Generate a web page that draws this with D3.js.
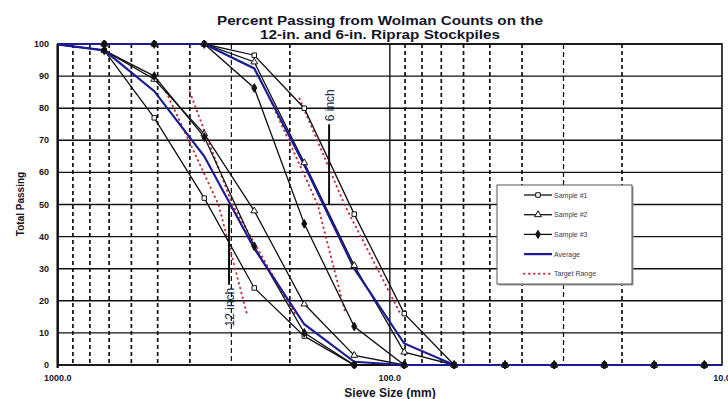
<!DOCTYPE html>
<html>
<head>
<meta charset="utf-8">
<script src="https://cdn.jsdelivr.net/npm/d3@7"></script>
<style>
  body { margin: 0; background: #fff; }
  svg { display: block; font-family: "Liberation Sans", Arial, sans-serif; }
</style>
</head>
<body>
<svg id="chart" width="728" height="399"></svg>
<script>
// sieve sizes (mm) where counts were tallied
const sieveSizes = [1024, 724, 512, 362, 256, 181, 128, 90.5, 64, 45, 32, 22.6, 16, 11.3, 8];

// 12-in. stockpile, percent passing
const sample1_12 = [100, 98, 77, 52, 24, 9, 0, 0, 0, 0, 0, 0, 0, 0, 0];
const sample2_12 = [100, 98, 89, 72, 48, 19, 3, 0, 0, 0, 0, 0, 0, 0, 0];
const sample3_12 = [100, 98, 90, 71, 37, 10, 0, 0, 0, 0, 0, 0, 0, 0, 0];
const average_12 = [100, 98, 85.3, 65, 36.3, 12.7, 1, 0, 0, 0, 0, 0, 0, 0, 0];

// 6-in. stockpile, percent passing
const sample1_6 = [100, 100, 100, 100, 96.5, 80, 47, 16, 0, 0, 0, 0, 0, 0, 0];
const sample2_6 = [100, 100, 100, 100, 94.4, 63, 31, 4, 0, 0, 0, 0, 0, 0, 0];
const sample3_6 = [100, 100, 100, 100, 86.3, 44, 12, 0, 0, 0, 0, 0, 0, 0, 0];
const average_6 = [100, 100, 100, 100, 92.4, 62.3, 30, 6.7, 0, 0, 0, 0, 0, 0, 0];

// target range bands (size in mm at given percent passing)
const targetPct12 = [85, 50, 15];
const target12Coarse = [471, 328, 268];
const target12Fine = [400, 298, 191];
const targetPct6 = [83, 50, 16];
const target6Coarse = [230, 165, 136];
const target6Fine = [187, 137, 93];

// design size markers
const markerSizes = [305, 152.4];
const markerTop = [50, 75];
const markerBottom = [25, 50];
const markerLabels = ["12 inch", "6 inch"];

const titleLines = ['Percent Passing from Wolman Counts on the', '12-in. and 6-in. Riprap Stockpiles'];
const yTicks = [0, 10, 20, 30, 40, 50, 60, 70, 80, 90, 100];
const xLabels = [1000, 100, 10];
const minorSizes = [900, 800, 700, 600, 500, 400, 300, 200, 90, 80, 70, 60, 50, 40, 30, 20];

const svg = d3.select('#chart');
const plotL = 57.7, plotR = 722, plotT = 44, plotB = 365;
const ink = '#15152a';

const x = d3.scaleLog().domain([1000, 10]).range([plotL, plotR]);
const y = d3.scaleLinear().domain([0, 100]).range([plotB, plotT]);

svg.append('defs').append('clipPath').attr('id', 'plotClip')
  .append('rect').attr('x', plotL).attr('y', plotT - 4)
  .attr('width', plotR - plotL).attr('height', plotB - plotT + 8);

// title, stretched wide like the original
svg.append('g').selectAll('text').data(titleLines).join('text')
  .attr('x', 380).attr('y', (d, i) => 24.5 + i * 14)
  .attr('text-anchor', 'middle')
  .attr('font-size', 12.5).attr('font-weight', 'bold').attr('fill', ink)
  .attr('textLength', (d, i) => i === 0 ? 326 : 240)
  .attr('lengthAdjust', 'spacingAndGlyphs')
  .text(d => d);

// grid
const grid = svg.append('g');
grid.selectAll('line.minor').data(minorSizes).join('line')
  .attr('class', 'minor')
  .attr('x1', d => x(d)).attr('x2', d => x(d))
  .attr('y1', plotT).attr('y2', plotB)
  .attr('stroke', '#111').attr('stroke-width', d => (d === 300 || d === 30) ? 1.2 : 1.7)
  .attr('stroke-dasharray', d => (d === 300 || d === 30) ? '5,3' : '4,3');
grid.selectAll('line.h').data(yTicks).join('line')
  .attr('class', 'h')
  .attr('x1', plotL).attr('x2', plotR)
  .attr('y1', d => y(d)).attr('y2', d => y(d))
  .attr('stroke', '#111').attr('stroke-width', 1.4);
grid.append('line')
  .attr('x1', x(100)).attr('x2', x(100)).attr('y1', plotT).attr('y2', plotB)
  .attr('stroke', '#111').attr('stroke-width', 1.4);
grid.append('rect')
  .attr('x', plotL).attr('y', plotT).attr('width', plotR - plotL).attr('height', plotB - plotT)
  .attr('fill', 'none').attr('stroke', '#111').attr('stroke-width', 1.6);
// heavier left axis
grid.append('line')
  .attr('x1', plotL).attr('x2', plotL).attr('y1', plotT).attr('y2', plotB + 3)
  .attr('stroke', '#111').attr('stroke-width', 2.4);

// axis labels
svg.append('g').selectAll('text').data(yTicks).join('text')
  .attr('x', 49).attr('y', d => y(d) + 3)
  .attr('text-anchor', 'end')
  .attr('font-size', 9).attr('font-weight', 'bold').attr('fill', ink)
  .text(d => d);
svg.append('g').selectAll('text').data(xLabels).join('text')
  .attr('x', d => x(d)).attr('y', 381)
  .attr('text-anchor', 'middle')
  .attr('font-size', 9).attr('font-weight', 'bold').attr('fill', ink)
  .text(d => d3.format('.1f')(d));

svg.append('text')
  .attr('transform', 'translate(24,204) rotate(-90)')
  .attr('text-anchor', 'middle')
  .attr('font-size', 10).attr('font-weight', 'bold').attr('fill', ink)
  .text('Total Passing');
svg.append('text')
  .attr('x', 390).attr('y', 397)
  .attr('text-anchor', 'middle')
  .attr('font-size', 12).attr('font-weight', 'bold').attr('fill', ink)
  .text('Sieve Size (mm)');

const plot = svg.append('g').attr('clip-path', 'url(#plotClip)');

const line = d3.line().x(d => x(d[0])).y(d => y(d[1]));
const pairs = vals => sieveSizes.map((s, i) => [s, vals[i]]);

// target range (red dotted)
const targets = [
  [target12Coarse, targetPct12], [target12Fine, targetPct12],
  [target6Coarse, targetPct6], [target6Fine, targetPct6]
];
plot.selectAll('path.target').data(targets).join('path')
  .attr('class', 'target')
  .attr('d', d => line(d[0].map((s, i) => [s, d[1][i]])))
  .attr('fill', 'none').attr('stroke', '#c0303a').attr('stroke-width', 2)
  .attr('stroke-dasharray', '0.5,4.5').attr('stroke-linecap', 'round');

// design size markers
markerSizes.forEach((s, i) => {
  svg.append('line')
    .attr('x1', x(s)).attr('x2', x(s))
    .attr('y1', y(markerTop[i])).attr('y2', y(markerBottom[i]))
    .attr('stroke', '#111').attr('stroke-width', 2);
  // 12 inch label hangs below its line, 6 inch label sits above
  const below = i === 0;
  const ty = below ? y(markerBottom[i]) + 3 : y(markerTop[i]) - 3;
  svg.append('text')
    .attr('transform', `translate(${x(s) + 5},${ty}) rotate(-90)`)
    .attr('text-anchor', below ? 'end' : 'start')
    .attr('font-size', 12).attr('fill', '#1a2a4a')
    .text(markerLabels[i]);
});

// sample lines
const samples = [
  { vals: sample1_12, sym: d3.symbolSquare, fill: '#fff' },
  { vals: sample2_12, sym: d3.symbolTriangle, fill: '#fff' },
  { vals: sample3_12, sym: d3.symbolDiamond, fill: '#111' },
  { vals: sample1_6, sym: d3.symbolSquare, fill: '#fff' },
  { vals: sample2_6, sym: d3.symbolTriangle, fill: '#fff' },
  { vals: sample3_6, sym: d3.symbolDiamond, fill: '#111' }
];
samples.forEach(sm => {
  plot.append('path')
    .attr('d', line(pairs(sm.vals)))
    .attr('fill', 'none').attr('stroke', '#111').attr('stroke-width', 1.3);
});

[average_12, average_6].forEach(vals => {
  plot.append('path')
    .attr('d', line(pairs(vals)))
    .attr('fill', 'none').attr('stroke', '#1c1c96').attr('stroke-width', 2.2);
});

samples.forEach(sm => {
  plot.selectAll(null).data(pairs(sm.vals)).join('path')
    .attr('transform', d => `translate(${x(d[0])},${y(d[1])})`)
    .attr('d', d3.symbol().type(sm.sym).size(sm.sym === d3.symbolDiamond ? 22 : 20))
    .attr('fill', sm.fill).attr('stroke', '#111').attr('stroke-width', 1);
});

// legend
const lg = svg.append('g').attr('transform', 'translate(497,185)');
lg.append('rect').attr('x', 1.5).attr('y', 1.5).attr('width', 135).attr('height', 99)
  .attr('fill', '#999');
lg.append('rect').attr('width', 135).attr('height', 99)
  .attr('fill', '#fff').attr('stroke', '#555').attr('stroke-width', 1);
const legendItems = [
  { label: 'Sample #1', kind: 'sym', sym: d3.symbolSquare, fill: '#fff' },
  { label: 'Sample #2', kind: 'sym', sym: d3.symbolTriangle, fill: '#fff' },
  { label: 'Sample #3', kind: 'sym', sym: d3.symbolDiamond, fill: '#111' },
  { label: 'Average', kind: 'avg' },
  { label: 'Target Range', kind: 'target' }
];
legendItems.forEach((it, i) => {
  const gy = 10 + i * 19.7;
  const g = lg.append('g').attr('transform', `translate(0,${gy})`);
  if (it.kind === 'sym') {
    g.append('line').attr('x1', 27).attr('x2', 55).attr('stroke', '#111').attr('stroke-width', 1.3);
    g.append('path').attr('transform', 'translate(41,0)')
      .attr('d', d3.symbol().type(it.sym).size(20))
      .attr('fill', it.fill).attr('stroke', '#111');
  } else if (it.kind === 'avg') {
    g.append('line').attr('x1', 27).attr('x2', 55).attr('stroke', '#1c1c96').attr('stroke-width', 2.2);
  } else {
    g.append('line').attr('x1', 27).attr('x2', 55).attr('stroke', '#c0303a').attr('stroke-width', 2)
      .attr('stroke-dasharray', '0.5,4.5').attr('stroke-linecap', 'round');
  }
  g.append('text').attr('x', 57).attr('y', 2.5)
    .attr('font-size', 7).attr('fill', '#3a3a5a').text(it.label);
});
</script>
</body>
</html>
